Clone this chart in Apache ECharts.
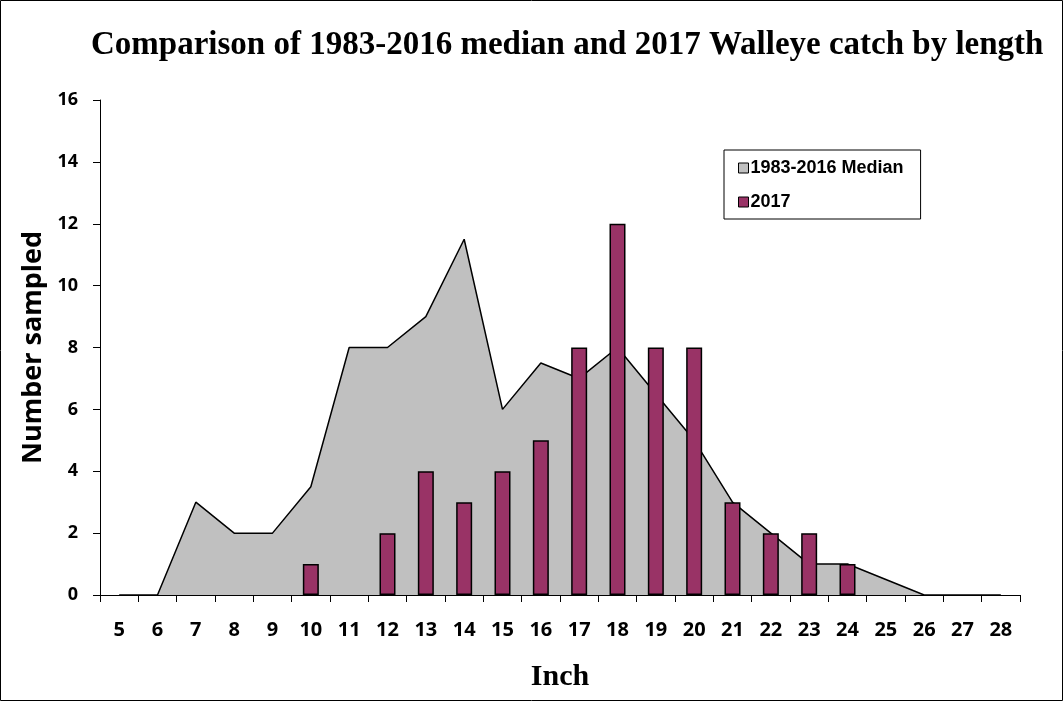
<!DOCTYPE html>
<html>
<head>
<meta charset="utf-8">
<script src="https://cdn.jsdelivr.net/npm/echarts@6/dist/echarts.min.js"></script>
<style>
  html, body { margin: 0; padding: 0; background: #fff; }
  #chart { width: 1064px; height: 702px; }
</style>
</head>
<body>
<div id="chart"></div>
<script>
// Walleye length classes (inches)
const inches = ['5','6','7','8','9','10','11','12','13','14','15','16','17','18','19','20','21','22','23','24','25','26','27','28'];
// 1983-2016 median catch per length class
const median8316 = [0, 0, 3, 2, 2, 3.5, 8, 8, 9, 11.5, 6, 7.5, 7, 8, 6.5, 5, 3, 2, 1, 1, 0.5, 0, 0, 0];
// 2017 catch per length class
const catch2017 = [null, null, null, null, null, 1, null, 2, 4, 3, 4, 5, 8, 12, 8, 8, 3, 2, 2, 1, null, null, null, null];
const yTicks = { min: 0, max: 16, interval: 2 };

const chart = echarts.init(document.getElementById('chart'), null, { renderer: 'canvas' });

chart.setOption({
  backgroundColor: '#ffffff',
  animation: false,
  title: {
    text: 'Comparison of 1983-2016 median and 2017 Walleye catch by length',
    left: 86,
    top: 24,
    textStyle: { fontFamily: 'Liberation Serif', fontWeight: 'bold', fontSize: 33, color: '#000' }
  },
  legend: {
    orient: 'vertical',
    left: 724,
    top: 150,
    padding: [9, 17, 8, 14],
    itemGap: 16,
    itemWidth: 10,
    itemHeight: 10,
    borderColor: '#000',
    borderWidth: 1,
    textStyle: { fontFamily: 'Liberation Sans', fontWeight: 'bold', fontSize: 18, color: '#000', padding: [0, 0, 0, -3] },
    data: [
      { name: '1983-2016 Median', icon: 'rect', itemStyle: { color: '#C0C0C0', borderColor: '#000', borderWidth: 1 } },
      { name: '2017', icon: 'rect', itemStyle: { color: '#993366', borderColor: '#000', borderWidth: 1 } }
    ]
  },
  grid: { left: 100, right: 44, top: 100, bottom: 107, containLabel: false },
  xAxis: {
    type: 'category',
    data: inches,
    boundaryGap: true,
    name: 'Inch',
    nameLocation: 'middle',
    nameGap: 67,
    nameTextStyle: { fontFamily: 'Liberation Serif', fontWeight: 'bold', fontSize: 30, color: '#000' },
    axisLine: { show: true, lineStyle: { color: '#000', width: 1 } },
    axisTick: { show: true, alignWithLabel: false, length: 7, lineStyle: { color: '#000' } },
    axisLabel: { color: '#000', fontFamily: 'Open Sans', fontWeight: 'bold', fontSize: 20, margin: 25, interval: 0 },
    splitLine: { show: false }
  },
  yAxis: {
    type: 'value',
    min: yTicks.min,
    max: yTicks.max,
    interval: yTicks.interval,
    name: 'Number sampled',
    nameLocation: 'middle',
    nameGap: 51,
    nameRotate: 90,
    nameTextStyle: { fontFamily: 'Open Sans', fontWeight: 'bold', fontSize: 27, color: '#000' },
    axisLine: { show: true, lineStyle: { color: '#000', width: 1 } },
    axisTick: { show: true, length: 7, lineStyle: { color: '#000' } },
    axisLabel: { color: '#000', fontFamily: 'Open Sans', fontWeight: 'bold', fontSize: 18, margin: 22 },
    splitLine: { show: false }
  },
  series: [
    {
      name: '1983-2016 Median',
      type: 'line',
      data: median8316,
      symbol: 'none',
      lineStyle: { color: '#000', width: 1.5 },
      itemStyle: { color: '#C0C0C0' },
      areaStyle: { color: '#C0C0C0', opacity: 1 },
      z: 1
    },
    {
      name: '2017',
      type: 'bar',
      data: catch2017,
      barWidth: 16,
      itemStyle: { color: '#993366', borderColor: '#000', borderWidth: 1.5 },
      z: 3
    }
  ],
  graphic: [
    {
      type: 'rect',
      shape: { x: 0.5, y: 0.5, width: 1062, height: 700 },
      style: { fill: 'none', stroke: '#000', lineWidth: 1 },
      silent: true
    }
  ]
});
</script>
</body>
</html>
